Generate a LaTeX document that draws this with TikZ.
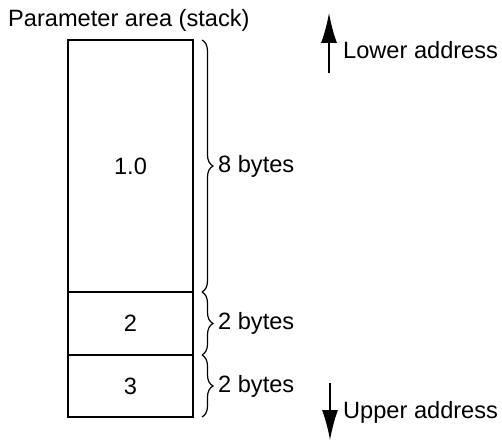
\documentclass[tikz,border=0pt]{standalone}
\usepackage{fontspec}
\setmainfont{Liberation Sans}
\usetikzlibrary{arrows.meta,decorations.pathreplacing,calc}
\begin{document}
\begin{tikzpicture}[x=1pt,y=1pt,
  cell/.style={draw,line width=1.4pt,minimum width=125pt,inner sep=0pt,outer sep=0pt,anchor=north},
  lbl/.style={anchor=west,inner sep=0pt},
  brc/.style={decorate,decoration={brace,amplitude=11pt},line width=1.2pt},
  addr/.style={line width=1.4pt,-{Latex[length=30pt,width=16pt]}},
  every node/.style={font=\fontsize{23.6}{28}\selectfont}]
\useasboundingbox (0,0) rectangle (502,440);
\node[lbl] (title) at (8,420) {Parameter area (stack)};
\node[cell,minimum height=252pt] (c1) at (130.5,400) {1.0};
\node[cell,minimum height=63pt] (c2) at (c1.south) {2};
\node[cell,minimum height=62pt] (c3) at (c2.south) {3};
\draw[brc] ($(c1.north east)+(9,0)$) -- ($(c1.south east)+(9,0)$) coordinate[midway,xshift=12pt] (b1);
\draw[brc] ($(c2.north east)+(9,0)$) -- ($(c2.south east)+(9,0)$) coordinate[midway,xshift=12pt] (b2);
\draw[brc] ($(c3.north east)+(9,0)$) -- ($(c3.south east)+(9,0)$) coordinate[midway,xshift=12pt] (b3);
\node[lbl] (l1) at ($(b1)+(4,0)$) {8 bytes};
\node[lbl] (l2) at ($(b2)+(4,0)$) {2 bytes};
\node[lbl] (l3) at ($(b3)+(4,0)$) {2 bytes};
\coordinate (ua) at (329,367);
\coordinate (ub) at (329,427);
\draw[addr] (ua) -- (ub);
\node[lbl] (low) at (343,390) {Lower address};
\coordinate (da) at (330,57);
\coordinate (db) at (330,0);
\draw[addr] (da) -- (db);
\node[lbl] (up) at (343,28) {Upper address};
\end{tikzpicture}
\end{document}
